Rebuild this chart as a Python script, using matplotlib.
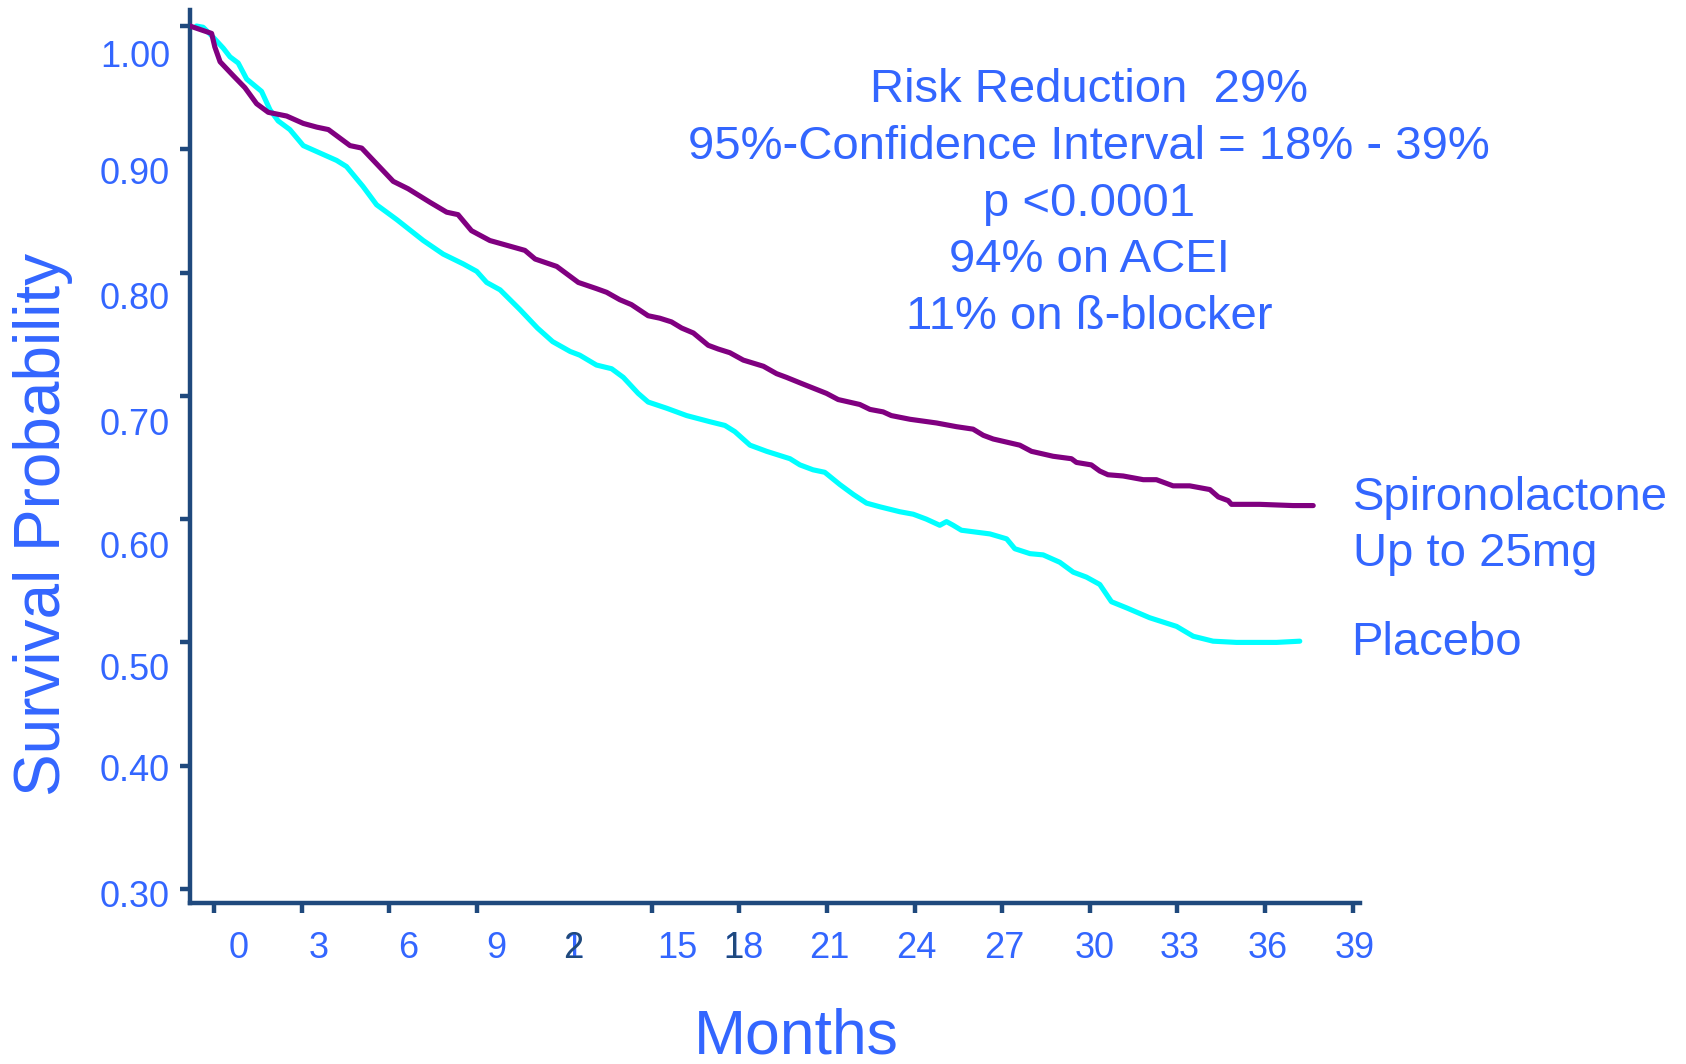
import matplotlib
matplotlib.use("Agg")
import matplotlib.pyplot as plt
from matplotlib.transforms import ScaledTranslation, blended_transform_factory

plt.rcParams["font.family"] = ["Liberation Sans", "DejaVu Sans"]

# Kaplan-Meier survival estimates, read per month of follow-up.
SPIRO_MONTHS = [-0.82, -0.08, 0.03, 0.21, 0.65, 1.06, 1.46, 1.86, 2.49, 3.06,
                3.52, 3.92, 4.66, 5.06, 5.62, 6.14, 6.65, 7.40, 7.97, 8.36,
                8.82, 9.45, 10.65, 11.00, 11.74, 12.48, 13.10, 13.45, 13.90, 14.30,
                14.87, 15.27, 15.67, 16.02, 16.42, 16.93, 17.27, 17.67, 18.13, 18.82,
                19.27, 19.61, 20.13, 20.98, 21.38, 22.12, 22.47, 22.92, 23.20, 23.84,
                24.75, 25.43, 26.00, 26.35, 26.69, 27.60, 28.00, 28.74, 29.37, 29.54,
                30.05, 30.34, 30.62, 31.14, 31.83, 32.28, 32.85, 33.42, 34.11, 34.40,
                34.74, 34.85, 35.82, 36.96, 37.65]
SPIRO_SURV = [1.000, 0.994, 0.983, 0.971, 0.960, 0.950, 0.937, 0.930, 0.927, 0.921,
              0.918, 0.916, 0.903, 0.901, 0.887, 0.874, 0.868, 0.857, 0.849, 0.847,
              0.834, 0.826, 0.818, 0.811, 0.805, 0.792, 0.787, 0.784, 0.778, 0.774,
              0.765, 0.763, 0.760, 0.755, 0.751, 0.741, 0.738, 0.735, 0.729, 0.724,
              0.718, 0.715, 0.710, 0.702, 0.697, 0.693, 0.689, 0.687, 0.684, 0.681,
              0.678, 0.675, 0.673, 0.668, 0.665, 0.660, 0.655, 0.651, 0.649, 0.646,
              0.644, 0.639, 0.636, 0.635, 0.632, 0.632, 0.627, 0.627, 0.624, 0.618,
              0.615, 0.612, 0.612, 0.611, 0.611]

PLACEBO_MONTHS = [-0.60, -0.37, -0.03, 0.32, 0.55, 0.83, 1.12, 1.63, 1.92, 2.20,
                  2.60, 3.06, 3.63, 4.20, 4.54, 5.10, 5.57, 6.26, 7.17, 7.85,
                  8.54, 9.00, 9.34, 9.80, 10.48, 11.08, 11.60, 12.20, 12.53, 13.10,
                  13.62, 14.02, 14.53, 14.87, 15.50, 16.19, 16.99, 17.50, 17.84, 18.36,
                  18.93, 19.73, 20.07, 20.52, 20.92, 21.44, 21.90, 22.35, 22.81, 23.49,
                  23.95, 24.40, 24.86, 25.09, 25.32, 25.60, 26.58, 27.15, 27.43, 27.95,
                  28.40, 28.97, 29.43, 29.88, 30.34, 30.74, 31.26, 32.05, 32.97, 33.54,
                  34.22, 35.02, 36.39, 37.19]
PLACEBO_SURV = [1.000, 0.999, 0.991, 0.982, 0.975, 0.970, 0.957, 0.947, 0.932, 0.923,
                0.916, 0.903, 0.897, 0.891, 0.886, 0.870, 0.855, 0.843, 0.826, 0.815,
                0.807, 0.801, 0.792, 0.786, 0.770, 0.755, 0.744, 0.736, 0.733, 0.725,
                0.722, 0.715, 0.702, 0.695, 0.690, 0.684, 0.679, 0.676, 0.671, 0.660,
                0.655, 0.649, 0.644, 0.640, 0.638, 0.628, 0.620, 0.613, 0.610, 0.606,
                0.604, 0.600, 0.595, 0.598, 0.595, 0.591, 0.588, 0.584, 0.576, 0.572,
                0.571, 0.565, 0.557, 0.553, 0.547, 0.533, 0.528, 0.520, 0.513, 0.505,
                0.501, 0.500, 0.500, 0.501]

X_TICKS = [0, 3, 6, 9, 15, 18, 21, 24, 27, 30, 33, 36, 39]
X_LABELS = [0, 3, 6, 9, 12, 15, 18, 21, 24, 27, 30, 33, 36, 39]
Y_TICKS = [0.30, 0.40, 0.50, 0.60, 0.70, 0.80, 0.90, 1.00]
Y_LABELS = ["0.30", "0.40", "0.50", "0.60", "0.70", "0.80", "0.90", "1.00"]

STATS_LINES = ["Risk Reduction  29%",
               "95%-Confidence Interval = 18% - 39%",
               "p <0.0001",
               "94% on ACEI",
               "11% on ß-blocker"]
SPIRO_NAME = "Spironolactone\nUp to 25mg"
PLACEBO_NAME = "Placebo"

TEXT_BLUE = "#3366ff"
AXIS_NAVY = "#1f497d"
PURPLE = "#800080"
CYAN = "#00ffff"

# label nudges in pixels (right / down), one per label
X_LABEL_DX = [25, 17, 19, 20, 9, 25, 4, 2, 2, 2, 5, 2, 3, 2]
Y_LABEL_DY = [9, 6, 28, 29, 30, 27, 25, 31]

PX = 0.72  # points per pixel at dpi=100

fig = plt.figure(figsize=(16.86, 10.64), dpi=100)
ax = fig.add_axes([0.1127, 0.1513, 0.6939, 0.8393])

ax.plot(SPIRO_MONTHS, SPIRO_SURV, color=PURPLE, linewidth=3.7,
        solid_capstyle="round", solid_joinstyle="round", zorder=3)
ax.plot(PLACEBO_MONTHS, PLACEBO_SURV, color=CYAN, linewidth=3.7,
        solid_capstyle="round", solid_joinstyle="round", zorder=2)

ax.set_xlim(-0.82, 39.25)
ax.set_ylim(0.2886, 1.013)

for side in ("top", "right"):
    ax.spines[side].set_visible(False)
for side in ("left", "bottom"):
    ax.spines[side].set_color(AXIS_NAVY)
    ax.spines[side].set_linewidth(3.2)

ax.set_xticks(X_TICKS)
ax.set_yticks(Y_TICKS)
ax.tick_params(axis="both", direction="out", length=7.5, width=3.2,
               color=AXIS_NAVY, labelbottom=False, labelleft=False)

# tick labels drawn by hand so each can be nudged
xtrans = blended_transform_factory(ax.transData, ax.transAxes)
for val, dx in zip(X_LABELS, X_LABEL_DX):
    off = ScaledTranslation(dx * PX / 72, -45 * PX / 72, fig.dpi_scale_trans)
    if val == 12:
        ax.text(val, 0, "1", transform=xtrans + off, ha="center", va="center",
                fontsize=26, color=TEXT_BLUE, clip_on=False)
        ax.text(val, 0, "2", transform=xtrans + off, ha="center", va="center",
                fontsize=26, color=AXIS_NAVY, clip_on=False)
        continue
    ax.text(val, 0, str(val), transform=xtrans + off, ha="center", va="center",
            fontsize=26, color=TEXT_BLUE, clip_on=False)
    if val == 18:
        ax.text(val, 0, "1", transform=xtrans + off, ha="right", va="center",
                fontsize=26, color=AXIS_NAVY, clip_on=False)

ytrans = blended_transform_factory(ax.transAxes, ax.transData)
for val, lab, dy in zip(Y_TICKS, Y_LABELS, Y_LABEL_DY):
    off = ScaledTranslation(-20 * PX / 72, -dy * PX / 72, fig.dpi_scale_trans)
    ax.text(0, val, lab, transform=ytrans + off, ha="right", va="center",
            fontsize=26, color=TEXT_BLUE, clip_on=False)

fig.text(43 / 1686, 1 - 524 / 1064, "Survival Probability", rotation=90,
         ha="center", va="center", fontsize=46, color=TEXT_BLUE)
fig.text(796 / 1686, 1 - 1037 / 1064, "Months", ha="center", va="center",
         fontsize=45, color=TEXT_BLUE)

fig.text(1089 / 1686, 1 - 203.5 / 1064, "\n".join(STATS_LINES), ha="center",
         va="center", multialignment="center", linespacing=1.38,
         fontsize=34, color=TEXT_BLUE)
fig.text(1353 / 1686, 1 - 526 / 1064, SPIRO_NAME, ha="left", va="center",
         linespacing=1.36, fontsize=34, color=TEXT_BLUE)
fig.text(1351 / 1686, 1 - 643 / 1064, PLACEBO_NAME, ha="left", va="center",
         fontsize=34, color=TEXT_BLUE)

fig.savefig("out.png", dpi=100)
